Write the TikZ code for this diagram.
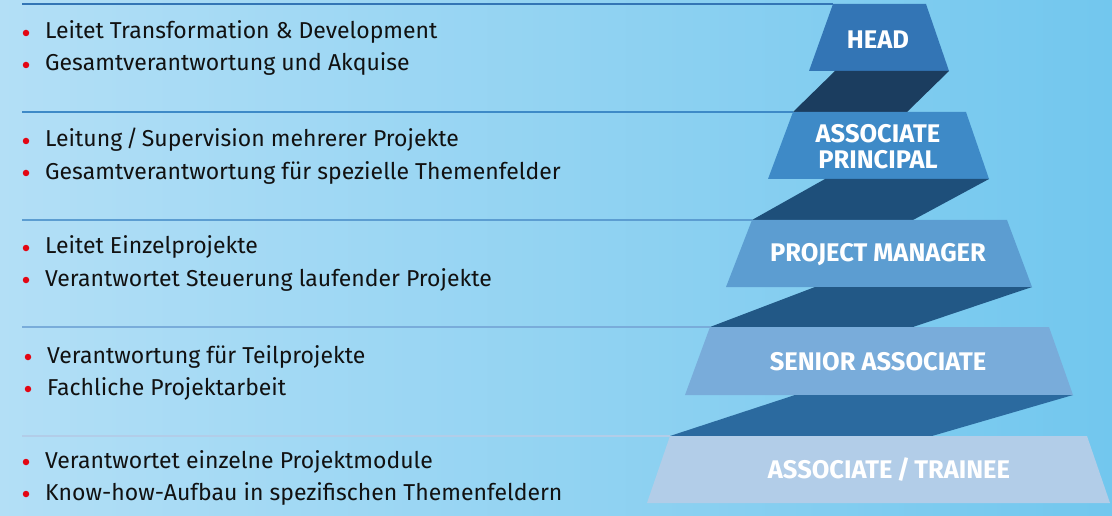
\documentclass[tikz,border=0pt]{standalone}
\usepackage{fontspec}
\setmainfont{Fira Sans}
\definecolor{bgL}{HTML}{B3DFF6}
\definecolor{bgR}{HTML}{72C7EE}
\definecolor{cHead}{HTML}{3375B5}
\definecolor{cAP}{HTML}{3E8AC7}
\definecolor{cPM}{HTML}{5C9DD1}
\definecolor{cSA}{HTML}{79ACDA}
\definecolor{cAT}{HTML}{B2CDE8}
\definecolor{bOne}{HTML}{1B3D5F}
\definecolor{bTwo}{HTML}{1E4F7A}
\definecolor{bThree}{HTML}{225886}
\definecolor{bFour}{HTML}{2B6A9F}
\definecolor{bulletred}{HTML}{E30613}
\definecolor{txt}{HTML}{111111}
\begin{document}
\begin{tikzpicture}[x=1pt,y=-1pt,
  item/.style={anchor=base west,inner sep=0pt,text=txt,font=\fontsize{23}{27}\selectfont},
  lvl/.style={inner sep=0pt,text=white,font=\bfseries\fontsize{25.5}{26}\selectfont,align=center},
  dot/.style={circle,fill=bulletred,inner sep=0pt,minimum size=6.5pt},
  sep/.style={line width=1.6pt}]
\useasboundingbox (0,0) rectangle (1112,516);
\shade[left color=bgL,right color=bgR] (0,0) rectangle (1112,516);
% separator lines
\draw[sep,cHead] (22,4) -- (833,4);
\draw[sep,cAP] (22,112) -- (793,112);
\draw[sep,cPM] (22,220) -- (752,220);
\draw[sep,cSA] (22,327) -- (710,327);
\draw[sep,cAT] (22,436) -- (670,436);
% pyramid
\fill[cHead] (833,4) -- (926,4) -- (949,71) -- (809,71) -- cycle;
\fill[bOne] (835,71) -- (949,71) -- (907,112) -- (793,112) -- cycle;
\fill[cAP] (793,112) -- (966,112) -- (989,179) -- (768,179) -- cycle;
\fill[bTwo] (825,179) -- (989,179) -- (913,220) -- (752,220) -- cycle;
\fill[cPM] (752,220) -- (1007,220) -- (1032,287) -- (726,287) -- cycle;
\fill[bThree] (815,287) -- (1032,287) -- (913,327) -- (710,327) -- cycle;
\fill[cSA] (710,327) -- (1049,327) -- (1073,395) -- (685,395) -- cycle;
\fill[bFour] (795,395) -- (1073,395) -- (932,436) -- (670,436) -- cycle;
\fill[cAT] (670,436) -- (1087,436) -- (1110,503) -- (647,503) -- cycle;
% labels
\node[lvl] (head) at (878,40) {HEAD};
\node[lvl] (ap) at (878,147) {ASSOCIATE\\PRINCIPAL};
\node[lvl] (pm) at (878,255) {PROJECT MANAGER};
\node[lvl] (sa) at (878,362) {SENIOR ASSOCIATE};
\node[lvl] (at) at (889,470) {ASSOCIATE\,/\,TRAINEE};
% bullets
\node[dot] (d1) at (26,33) {}; \node[item] (t1) at (45,39) {Leitet Transformation \& Development};
\node[dot] (d2) at (26,65) {}; \node[item] (t2) at (45,71) {Gesamtverantwortung und Akquise};
\node[dot] (d3) at (26,141) {}; \node[item] (t3) at (45,147) {Leitung\,/\,Supervision mehrerer Projekte};
\node[dot] (d4) at (26,173) {}; \node[item] (t4) at (45,179) {Gesamtverantwortung für spezielle Themenfelder};
\node[dot] (d5) at (26,248) {}; \node[item] (t5) at (45,254) {Leitet Einzelprojekte};
\node[dot] (d6) at (26,280) {}; \node[item] (t6) at (45,286) {Verantwortet Steuerung laufender Projekte};
\node[dot] (d7) at (28,357) {}; \node[item] (t7) at (47,363) {Verantwortung für Teilprojekte};
\node[dot] (d8) at (28,389) {}; \node[item] (t8) at (47,395) {Fachliche Projektarbeit};
\node[dot] (d9) at (26,462) {}; \node[item] (t9) at (45,468) {Verantwortet einzelne Projektmodule};
\node[dot] (d10) at (26,494) {}; \node[item] (t10) at (45,500) {Know-how-Aufbau in spezifischen Themenfeldern};
\end{tikzpicture}
\end{document}
